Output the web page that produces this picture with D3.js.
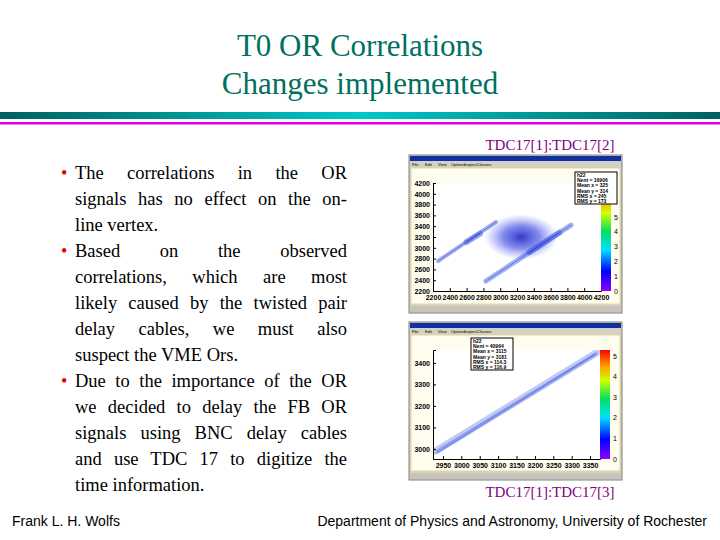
<!DOCTYPE html><html><head><meta charset="utf-8">
<script src="https://cdn.jsdelivr.net/npm/d3@7"></script>
<style>
body{margin:0;width:720px;height:540px;background:#fff;position:relative;overflow:hidden}
.t,.b,.cap{font-family:"Liberation Serif","DejaVu Serif",serif}
.t{position:absolute;left:0;width:720px;text-align:center;color:#007060;font-size:31px}
.b{position:absolute;left:75px;width:272px;font-size:18.5px;color:#000;white-space:nowrap}
.j{text-align:justify;text-align-last:justify}
.dot{position:absolute;left:61px;color:#e00000;font-size:18px;font-family:"Liberation Serif",serif}
.cap{position:absolute;color:#800080;font-size:15px;width:200px;text-align:center;left:450px}
.f{position:absolute;font-family:"Liberation Sans",Arial,sans-serif;font-size:14px;top:513px}
svg{position:absolute;left:0;top:0}
</style></head><body>
<div class="t" style="top:28px">T0 OR Correlations</div>
<div class="t" style="top:66px">Changes implemented</div>
<div class="cap" style="top:137px">TDC17[1]:TDC17[2]</div>
<div class="cap" style="top:484px">TDC17[1]:TDC17[3]</div>
<div class="f" style="left:12px">Frank L. H. Wolfs</div>
<div class="f" style="right:13px">Department of Physics and Astronomy, University of Rochester</div>
<svg id="s" width="720" height="540"></svg>
<script>
const bulletLines=[
 ["The correlations in the OR",1,true],["signals has no effect on the on-",0,true],["line vertex.",0,false],
 ["Based on the observed",1,true],["correlations, which are most",0,true],["likely caused by the twisted pair",0,true],
 ["delay cables, we must also",0,true],["suspect the VME Ors.",0,false],
 ["Due to the importance of the OR",1,true],["we decided to delay the FB OR",0,true],["signals using BNC delay cables",0,true],
 ["and use TDC 17 to digitize the",0,true],["time information.",0,false]];
// plot 1 data
const p1X=[2200,4200], p1Y=[2200,4200], p1XTicks=d3.range(2200,4201,200), p1YTicks=d3.range(2200,4201,200);
const p1Bands=[[2260,2755,2950,3478,4],[2600,3110,2760,3260,6],[2830,2385,3843,3420,5],[3350,2920,3700,3280,6]];
const p1Blob=[3250,3200,440,420];
const p1Stats=["h22","Nent = 16906","Mean x =  325","Mean y =  314","RMS x =  245","RMS y =  173"];
// plot 2 data
const p2X=[2923,3377], p2Y=[2953,3460], p2XTicks=d3.range(2950,3351,50), p2YTicks=[3000,3100,3200,3300,3400];
const p2Bands=[[2930,2990,3370,3450,7],[2935,2985,3365,3440,3]];
const p2Stats=["h22","Nent = 40964","Mean x =   3115","Mean y =   3181","RMS x =  114.3","RMS y =  116.9"];
const paletteLabels=[0,1,2,3,4,5];

let top0=163;
bulletLines.forEach((l,i)=>{
  const d=document.createElement('div');d.className='b'+(l[2]?' j':'');d.style.top=(top0+i*26)+'px';d.textContent=l[0];document.body.appendChild(d);
  if(l[1]){const b=document.createElement('div');b.className='dot';b.style.top=(top0+i*26)+'px';b.textContent='•';document.body.appendChild(b);}
});
const svg=d3.select('#s');
const defs=svg.append('defs');
const g1=defs.append('linearGradient').attr('id','rule');
[[0,'#006060'],[0.5,'#00c8c8'],[1,'#006060']].forEach(s=>g1.append('stop').attr('offset',s[0]).attr('stop-color',s[1]));
const pg=defs.append('linearGradient').attr('id','pal').attr('x1',0).attr('x2',0).attr('y1',1).attr('y2',0);
[[0,'#9000ff'],[0.18,'#0000ff'],[0.38,'#00e0ff'],[0.55,'#00e060'],[0.72,'#d0ff00'],[0.85,'#ffa000'],[1,'#ff0000']].forEach(s=>pg.append('stop').attr('offset',s[0]).attr('stop-color',s[1]));
const rg=defs.append('radialGradient').attr('id','blob');
[[0,'#2020c0',0.9],[0.5,'#3040e0',0.6],[1,'#6070ff',0]].forEach(s=>rg.append('stop').attr('offset',s[0]).attr('stop-color',s[1]).attr('stop-opacity',s[2]));
svg.append('rect').attr('x',0).attr('y',112).attr('width',720).attr('height',7).attr('fill','url(#rule)');
svg.append('rect').attr('x',0).attr('y',122).attr('width',720).attr('height',2.5).attr('fill','#e000e0');

function win(o){
  const g=svg.append('g');
  g.append('rect').attr('x',o.x0).attr('y',o.y0).attr('width',o.w).attr('height',o.h).attr('fill','#d4d0c8').attr('stroke','#808080');
  g.append('rect').attr('x',o.x0+1).attr('y',o.y0+1).attr('width',o.w-2).attr('height',5).attr('fill','#1030a0');
  g.append('rect').attr('x',o.x0+2).attr('y',o.y0+13).attr('width',o.w-4).attr('height',o.h-22).attr('fill','#fffdf0').attr('stroke','#e0d890');
  ['File','Edit','View','Options','Inspect','Classes'].forEach((m,i)=>g.append('text').attr('x',o.x0+3+i*13).attr('y',o.y0+11).attr('font-size',4).attr('font-family','Liberation Sans').text(m));
  const x=d3.scaleLinear().domain(o.xd).range([o.px0,o.px1]);
  const y=d3.scaleLinear().domain(o.yd).range([o.py1,o.py0]);
  g.append('rect').attr('x',o.px0).attr('y',o.py0).attr('width',o.px1-o.px0).attr('height',o.py1-o.py0).attr('fill','#fff');
  const cp='c'+o.x0+o.y0;
  defs.append('clipPath').attr('id',cp).append('rect').attr('x',o.px0).attr('y',o.py0).attr('width',o.px1-o.px0).attr('height',o.py1-o.py0);
  const pl=g.append('g').attr('clip-path',`url(#${cp})`);
  if(o.blob){pl.append('ellipse').attr('cx',x(o.blob[0])).attr('cy',y(o.blob[1])).attr('rx',x(o.blob[0]+o.blob[2])-x(o.blob[0])).attr('ry',y(o.blob[1])-y(o.blob[1]+o.blob[3])).attr('fill','url(#blob)');}
  o.bands.forEach(b=>pl.append('line').attr('x1',x(b[0])).attr('y1',y(b[1])).attr('x2',x(b[2])).attr('y2',y(b[3])).attr('stroke','#3050e0').attr('stroke-width',b[4]).attr('stroke-opacity',o.bop).attr('stroke-linecap','round'));
  o.bands.forEach(b=>pl.append('line').attr('x1',x(b[0])).attr('y1',y(b[1])).attr('x2',x(b[2])).attr('y2',y(b[3])).attr('stroke','#2030c0').attr('stroke-width',1).attr('stroke-opacity',o.bop));
  const ax=g.append('g').attr('transform',`translate(0,${o.py1})`).call(d3.axisBottom(x).tickValues(o.xt).tickSize(-3).tickFormat(d3.format('d')));
  const ay=g.append('g').attr('transform',`translate(${o.px0},0)`).call(d3.axisLeft(y).tickValues(o.yt).tickSize(-3).tickFormat(d3.format('d')));
  [ax,ay].forEach(a=>{a.selectAll('text').attr('font-size',7).attr('font-family','Liberation Sans').attr('font-weight','bold');a.select('.domain').attr('stroke','#000');});
  ax.selectAll('text').attr('dy','0.9em');
  const pz=d3.scaleLinear().domain([0,1]).range([o.py1,o.py1-o.pstep]);
  g.append('rect').attr('x',o.px1).attr('y',o.py0).attr('width',10).attr('height',o.py1-o.py0).attr('fill','url(#pal)');
  paletteLabels.forEach(v=>g.append('text').attr('x',o.px1+13).attr('y',pz(v)+2.5).attr('font-size',7).attr('font-family','Liberation Sans').text(v));
  g.append('rect').attr('x',o.sx).attr('y',o.sy).attr('width',42).attr('height',32).attr('fill','#fff').attr('stroke','#000');
  o.stats.forEach((s,i)=>g.append('text').attr('x',o.sx+2).attr('y',o.sy+5+i*5.2).attr('font-size',5).attr('font-family','Liberation Sans').attr('font-weight','bold').text(s));
  g.append('rect').attr('x',o.x0+1).attr('y',o.y0+o.h-7).attr('width',o.w-2).attr('height',6).attr('fill','#c8c4bc');
}
win({x0:409,y0:155,w:213,h:158,xd:p1X,yd:p1Y,px0:433,px1:601,py0:183,py1:291,xt:p1XTicks,yt:p1YTicks,bands:p1Bands,blob:p1Blob,stats:p1Stats,sx:575,sy:172,pstep:14.8,bop:0.45});
win({x0:409,y0:322,w:213,h:158,xd:p2X,yd:p2Y,px0:433,px1:600,py0:350,py1:459,xt:p2XTicks,yt:p2YTicks,bands:p2Bands,stats:p2Stats,sx:471,sy:338,pstep:20.6,bop:0.3});
</script></body></html>
